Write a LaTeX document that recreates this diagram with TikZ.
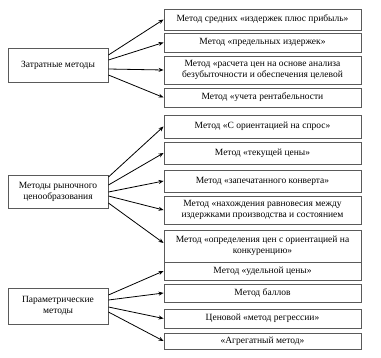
\documentclass[tikz,border=0pt]{standalone}
\usepackage{fontspec}
\setmainfont{Liberation Serif}
\usetikzlibrary{arrows.meta,positioning}
\definecolor{boxgrey}{RGB}{90,90,90}

\begin{document}
\begin{tikzpicture}[x=1pt, y=-1pt,
    box/.style={rectangle, draw=boxgrey, line width=0.9pt, fill=white,
        minimum width=197pt, inner sep=1pt, align=center,
        font=\fontsize{9.5}{11}\selectfont},
    group/.style={box, minimum width=100pt},
    arr/.style={-{Stealth[length=5pt, width=4pt]}, line width=0.8pt, black}
]
    \useasboundingbox (0,0) rectangle (381,357);

    % Left column
    \node[group, minimum height=34pt] (cost) at (58,65) {Затратные методы};
    \node[group, minimum height=33pt] (market) at (58,191.5)
        {Методы рыночного\\ценообразования};
    \node[group, minimum height=36pt] (param) at (58,306)
        {Параметрические\\методы};

    % Right column
    \node[box, minimum height=21pt] (cost1) at (262.5,19.5)
        {Метод средних «издержек плюс прибыль»};
    \node[box, minimum height=19pt] (cost2) at (262.5,42.5)
        {Метод «предельных издержек»};
    \node[box, minimum height=28pt] (cost3) at (262.5,70)
        {Метод «расчета цен на основе анализа\\безубыточности и обеспечения целевой};
    \node[box, minimum height=19pt] (cost4) at (262.5,97.5)
        {Метод «учета рентабельности};
    \node[box, minimum height=23pt] (market1) at (262.5,126.5)
        {Метод «С ориентацией на спрос»};
    \node[box, minimum height=22pt] (market2) at (262.5,153)
        {Метод «текущей цены»};
    \node[box, minimum height=22pt] (market3) at (262.5,181)
        {Метод «запечатанного конверта»};
    \node[box, minimum height=28pt] (market4) at (262.5,210)
        {Метод «нахождения равновесия между\\издержками производства и состоянием};
    \node[box, minimum height=32pt] (market5) at (262.5,246)
        {Метод «определения цен с ориентацией на\\конкуренцию»};
    \node[box, minimum height=18pt] (param1) at (262.5,271)
        {Метод «удельной цены»};
    \node[box, minimum height=18pt] (param2) at (262.5,293)
        {Метод баллов};
    \node[box, minimum height=19pt] (param3) at (262.5,318.5)
        {Ценовой «метод регрессии»};
    \node[box, minimum height=16pt] (param4) at (262.5,341)
        {«Агрегатный метод»};

    % Arrows
    \draw[arr] ([yshift=10pt]cost.east) -- (cost1.west);
    \draw[arr] ([yshift=5pt]cost.east) -- (cost2.west);
    \draw[arr] ([yshift=-4pt]cost.east) -- (cost3.west);
    \draw[arr] ([yshift=-10pt]cost.east) -- (cost4.west);

    \draw[arr] ([yshift=14.5pt]market.east) -- (market1.west);
    \draw[arr] ([yshift=6.5pt]market.east) -- (market2.west);
    \draw[arr] ([yshift=-0.5pt]market.east) -- (market3.west);
    \draw[arr] ([yshift=-4.5pt]market.east) -- (market4.west);
    \draw[arr] ([yshift=-11.5pt]market.east) -- ([yshift=3pt]market5.west);

    \draw[arr] ([yshift=11pt]param.east) -- (param1.west);
    \draw[arr] ([yshift=6pt]param.east) -- (param2.west);
    \draw[arr] ([yshift=-1pt]param.east) -- (param3.west);
    \draw[arr] ([yshift=-6pt]param.east) -- (param4.west);
\end{tikzpicture}
\end{document}
